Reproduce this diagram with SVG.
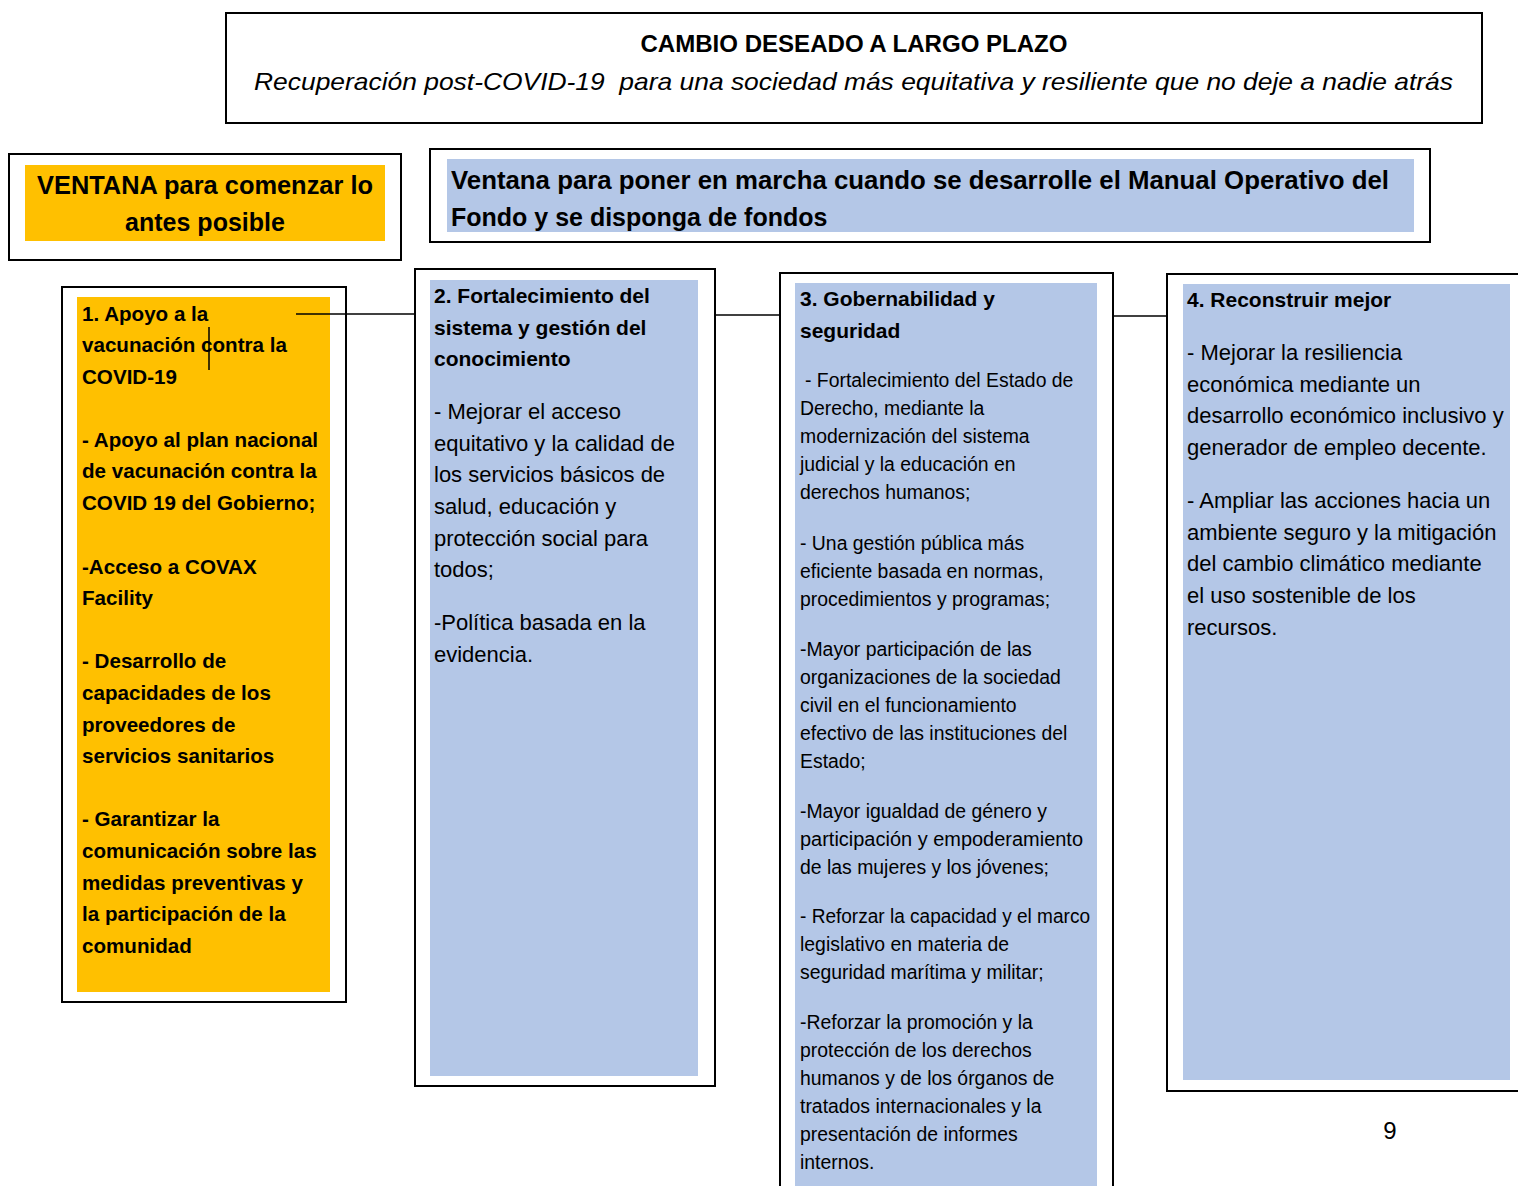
<svg xmlns="http://www.w3.org/2000/svg" width="1518" height="1186" viewBox="0 0 1518 1186">
<style>
.frame{fill:#fff;stroke:#000;stroke-width:2}
.org{fill:#FFC000}
.blu{fill:#B4C7E7}
.conn{stroke:#000;stroke-width:1.5;fill:none}
text{font-family:"Liberation Sans",Arial,sans-serif;fill:#000}
.b21{font-size:21px;font-weight:bold}
.b1{font-size:20.6px;font-weight:bold}
.r22{font-size:22px}
.r19{font-size:19.4px}
.win{font-size:25px;font-weight:bold}
</style>
<rect width="1518" height="1186" fill="#fff"/>
<g id="goal">
<rect class="frame" x="226" y="13" width="1256" height="110"/>
<text x="854" y="52" text-anchor="middle" font-size="24" font-weight="bold" textLength="427" lengthAdjust="spacingAndGlyphs">CAMBIO DESEADO A LARGO PLAZO</text>
<text x="254" y="90" font-size="24" font-style="italic" textLength="1199" lengthAdjust="spacingAndGlyphs" xml:space="preserve">Recuperación post-COVID-19  para una sociedad más equitativa y resiliente que no deje a nadie atrás</text>
</g>
<g id="window-early">
<rect class="frame" x="9" y="154" width="392" height="106"/>
<rect class="org" x="25" y="165" width="360" height="76"/>
<text class="win" x="205" y="194" text-anchor="middle" textLength="336" lengthAdjust="spacingAndGlyphs">VENTANA para comenzar lo</text>
<text class="win" x="205" y="231" text-anchor="middle">antes posible</text>
</g>
<g id="window-fund">
<rect class="frame" x="430" y="149" width="1000" height="93"/>
<rect class="blu" x="447" y="159" width="967" height="73"/>
<text class="win" x="451" y="189" textLength="938" lengthAdjust="spacingAndGlyphs">Ventana para poner en marcha cuando se desarrolle el Manual Operativo del</text>
<text class="win" x="451" y="226">Fondo y se disponga de fondos</text>
</g>
<g id="box1">
<rect class="frame" x="62" y="287" width="284" height="715"/>
<rect class="org" x="77" y="297" width="253" height="695"/>
<g class="b1">
<text x="82" y="321">1. Apoyo a la</text>
<text x="82" y="352">vacunación contra la</text>
<text x="82" y="384">COVID-19</text>
<text x="82" y="447">- Apoyo al plan nacional</text>
<text x="82" y="478">de vacunación contra la</text>
<text x="82" y="510">COVID 19 del Gobierno;</text>
<text x="82" y="574">-Acceso a COVAX</text>
<text x="82" y="605">Facility</text>
<text x="82" y="668">- Desarrollo de</text>
<text x="82" y="700">capacidades de los</text>
<text x="82" y="732">proveedores de</text>
<text x="82" y="763">servicios sanitarios</text>
<text x="82" y="826">- Garantizar la</text>
<text x="82" y="858">comunicación sobre las</text>
<text x="82" y="890">medidas preventivas y</text>
<text x="82" y="921">la participación de la</text>
<text x="82" y="953">comunidad</text>
</g>
</g>
<g id="box2">
<rect class="frame" x="415" y="269" width="300" height="817"/>
<rect class="blu" x="430" y="280" width="268" height="796"/>
<g class="b21">
<text x="434" y="303">2. Fortalecimiento del</text>
<text x="434" y="335">sistema y gestión del</text>
<text x="434" y="366">conocimiento</text>
</g>
<g class="r22">
<text x="434" y="419">- Mejorar el acceso</text>
<text x="434" y="451">equitativo y la calidad de</text>
<text x="434" y="482">los servicios básicos de</text>
<text x="434" y="514">salud, educación y</text>
<text x="434" y="546">protección social para</text>
<text x="434" y="577">todos;</text>
<text x="434" y="630">-Política basada en la</text>
<text x="434" y="662">evidencia.</text>
</g>
</g>
<g id="box3">
<rect class="frame" x="780" y="273" width="333" height="940"/>
<rect class="blu" x="795" y="283" width="302" height="920"/>
<g class="b21">
<text x="800" y="306">3. Gobernabilidad y</text>
<text x="800" y="338">seguridad</text>
</g>
<g class="r19">
<text x="805" y="387">- Fortalecimiento del Estado de</text>
<text x="800" y="415">Derecho, mediante la</text>
<text x="800" y="443">modernización del sistema</text>
<text x="800" y="471">judicial y la educación en</text>
<text x="800" y="499">derechos humanos;</text>
<text x="800" y="550">- Una gestión pública más</text>
<text x="800" y="578">eficiente basada en normas,</text>
<text x="800" y="606">procedimientos y programas;</text>
<text x="800" y="656">-Mayor participación de las</text>
<text x="800" y="684">organizaciones de la sociedad</text>
<text x="800" y="712">civil en el funcionamiento</text>
<text x="800" y="740">efectivo de las instituciones del</text>
<text x="800" y="768">Estado;</text>
<text x="800" y="818">-Mayor igualdad de género y</text>
<text x="800" y="846" textLength="283" lengthAdjust="spacingAndGlyphs">participación y empoderamiento</text>
<text x="800" y="874">de las mujeres y los jóvenes;</text>
<text x="800" y="923" textLength="290" lengthAdjust="spacingAndGlyphs">- Reforzar la capacidad y el marco</text>
<text x="800" y="951">legislativo en materia de</text>
<text x="800" y="979">seguridad marítima y militar;</text>
<text x="800" y="1029">-Reforzar la promoción y la</text>
<text x="800" y="1057">protección de los derechos</text>
<text x="800" y="1085">humanos y de los órganos de</text>
<text x="800" y="1113">tratados internacionales y la</text>
<text x="800" y="1141">presentación de informes</text>
<text x="800" y="1169">internos.</text>
</g>
</g>
<g id="box4">
<rect class="frame" x="1167" y="274" width="370" height="817"/>
<rect class="blu" x="1183" y="284" width="327" height="796"/>
<text class="b21" x="1187" y="307">4. Reconstruir mejor</text>
<g class="r22">
<text x="1187" y="360">- Mejorar la resiliencia</text>
<text x="1187" y="392">económica mediante un</text>
<text x="1187" y="423">desarrollo económico inclusivo y</text>
<text x="1187" y="455">generador de empleo decente.</text>
<text x="1187" y="508">- Ampliar las acciones hacia un</text>
<text x="1187" y="540">ambiente seguro y la mitigación</text>
<text x="1187" y="571">del cambio climático mediante</text>
<text x="1187" y="603">el uso sostenible de los</text>
<text x="1187" y="635">recursos.</text>
</g>
</g>
<g id="connectors">
<line class="conn" x1="296" y1="314" x2="415" y2="314"/>
<line class="conn" x1="209" y1="327" x2="209" y2="370"/>
<line class="conn" x1="715" y1="315" x2="780" y2="315"/>
<line class="conn" x1="1113" y1="316" x2="1167" y2="316"/>
</g>
<text id="page-number" x="1390" y="1139" text-anchor="middle" font-size="24">9</text>
</svg>
